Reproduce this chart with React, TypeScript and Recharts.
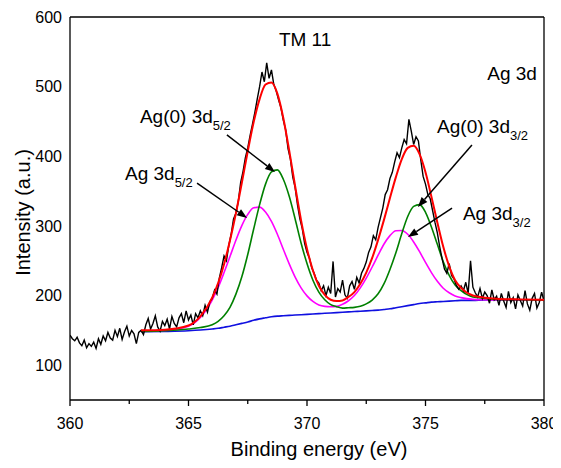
import { LineChart, Line, XAxis, YAxis, ReferenceLine, ReferenceDot } from 'recharts';

// Ag 3d XPS spectrum of sample TM 11, raw counts + peak fit

// raw spectrum, sampled every 0.1 eV from 360 eV
const rawStart = 360;
const rawStep = 0.1;
const rawCounts = [
  143, 138, 135, 140, 132, 128, 136, 125, 131, 127,
  133, 124, 138, 130, 142, 135, 147, 139, 136, 150,
  141, 153, 137, 148, 156, 142, 150, 145, 131, 147,
  150, 144, 158, 167, 152, 160, 171, 155, 149, 163,
  157, 166, 152, 170, 160, 155, 168, 174, 161, 178,
  165, 172, 158, 174, 168, 178, 171, 186, 176, 191,
  196, 208, 202, 225, 240, 257, 250, 272, 288, 310,
  318, 335, 362, 378, 398, 412, 430, 446, 463, 482,
  500, 521, 507, 534, 512, 524, 503, 494, 481, 470,
  452, 438, 411, 396, 370, 355, 330, 310, 296, 275,
  262, 254, 240, 232, 222, 218, 207, 214, 200, 212,
  203, 249, 198, 210, 205, 222, 201, 196, 214, 220,
  209, 226, 218, 232, 239, 248, 262, 270, 286, 280,
  298, 312, 326, 345, 352, 368, 377, 392, 405, 398,
  412, 424, 418, 453, 436, 417, 428, 422, 395, 371,
  360, 345, 339, 322, 305, 290, 270, 253, 238, 232,
  246, 229, 224, 215, 209, 214, 207, 219, 203, 250,
  212, 204, 198, 210, 196, 205, 200, 189, 208, 194,
  199, 186, 203, 192, 183, 206, 190, 197, 181, 201,
  193, 185, 207, 188, 179, 196, 203, 182, 190, 205,
  192,
];

// fit curves (binding energy grid of the fit)
const fitEnergy = [
  363, 364, 365, 365.5, 366, 366.25, 366.5, 366.75, 367, 367.25, 367.5, 367.75,
  368, 368.25, 368.5, 368.75, 369, 369.25, 369.5, 369.75, 370, 370.25, 370.5, 370.75,
  371, 371.25, 371.5, 371.75, 372, 372.25, 372.5, 372.75, 373, 373.25, 373.5, 373.75,
  374, 374.25, 374.5, 374.75, 375, 375.25, 375.5, 375.75, 376, 376.25, 376.5,
  377, 377.5, 378, 379, 380,
];
const background = [
  148, 148.5, 149.5, 150.5, 152, 153, 154.5, 156, 158, 160, 162, 164.5,
  166.5, 168, 169.5, 170.5, 171, 171.5, 172, 172.5, 173, 173.5, 174, 174.5,
  175, 175.5, 176, 176.5, 177, 177.5, 178, 178.5, 179, 180, 181, 182.5,
  184, 185.5, 187, 188.5, 189.5, 190.5, 191, 191.5, 192, 192.5, 193,
  193, 193.5, 193.5, 193.5, 193.5,
];
// Ag(0) 3d5/2 + 3d3/2 component (green)
const ag0Fit = [
  148.5, 149.5, 152, 154, 158, 163, 171, 183, 202, 227, 259, 295.5,
  330.5, 360, 377.5, 380.5, 367, 342.5, 310, 275.5, 246, 222, 205, 194,
  187, 184, 182, 182.5, 183, 184.5, 188, 193.5, 202.5, 217, 237.5, 261.5,
  289, 313.5, 328, 330.5, 319.5, 298.5, 273.5, 248.5, 229, 215, 207,
  198, 196, 194.5, 194, 193.5,
];
// Ag 3d5/2 + 3d3/2 component (magenta)
const agFit = [
  149, 150, 156, 168.5, 193.5, 211.5, 233, 256, 279.5, 300.5, 316.5, 326,
  327, 320, 306.5, 288, 266.5, 245.5, 226.5, 211, 199.5, 191.5, 186.5, 184.5,
  184, 184.5, 187.5, 192.5, 200, 211, 225, 241, 258, 274, 286, 293,
  293.5, 288, 277, 263, 247.5, 233, 220.5, 210.5, 204, 199.5, 197,
  194.5, 194, 193.5, 193.5, 193.5,
];
// cumulative fit (red)
const envelope = [
  150, 151, 157, 170, 197, 218, 245, 279, 318, 362, 407, 449,
  482, 503, 506, 490, 455, 408, 357, 308, 267, 236, 214, 201,
  194, 192, 193, 198, 205, 217, 233, 254, 280, 309, 340, 370,
  396, 412, 415, 403, 377, 342, 305, 270, 242, 222, 211,
  200, 197, 195.5, 194.5, 194,
];

const xTicks = [360, 362.5, 365, 367.5, 370, 372.5, 375, 377.5, 380];
const yTicks = [100, 200, 300, 400, 500, 600];

// annotation anchors, in data units
const notes = [
  { text: 'Ag(0) 3d', sub: '5/2', at: [362.95, 447.8], from: [366.62, 430.6], to: [368.65, 377.4] },
  { text: 'Ag 3d', sub: '5/2', at: [362.32, 366], from: [365.36, 361.6], to: [367.47, 311.4] },
  { text: 'Ag(0) 3d', sub: '3/2', at: [375.49, 433.4], from: [376.96, 416.2], to: [374.68, 327.2] },
  { text: 'Ag 3d', sub: '3/2', at: [376.58, 308.5], from: [376.12, 325.7], to: [374.26, 284] },
];

const rawRows = rawCounts.map((v, i) => ({ e: +(rawStart + i * rawStep).toFixed(1), v }));
const fitRows = fitEnergy.map((e, i) => ({
  e,
  bg: background[i],
  ag0: ag0Fit[i],
  ag: agFit[i],
  env: envelope[i],
}));

const FONT = '"Liberation Sans", Arial, sans-serif';

function XTick(props: any) {
  const { x, y, payload } = props;
  const major = payload.value % 5 === 0;
  return (
    <g>
      <line x1={x} y1={y} x2={x} y2={y + (major ? 6 : 4)} stroke="#000" strokeWidth={1.3} />
      {major && (
        <text x={x} y={y + 29} textAnchor="middle" fontSize={16} fill="#000" fontFamily={FONT}>
          {payload.value}
        </text>
      )}
    </g>
  );
}

function Arrow(props: any) {
  const { x1, y1, x2, y2 } = props;
  const a = Math.atan2(y2 - y1, x2 - x1);
  const len = 10;
  const half = 3.8;
  const bx = x2 - len * Math.cos(a);
  const by = y2 - len * Math.sin(a);
  const pts = `${x2},${y2} ${bx + half * Math.sin(a)},${by - half * Math.cos(a)} ${bx - half * Math.sin(a)},${by + half * Math.cos(a)}`;
  return (
    <g>
      <line x1={x1} y1={y1} x2={bx} y2={by} stroke="#000" strokeWidth={1.5} />
      <polygon points={pts} fill="#000" />
    </g>
  );
}

function noteText(text: string, sub: string) {
  return (props: any) => (
    <text x={props.cx} y={props.cy} fontSize={19} fill="#000" fontFamily={FONT}>
      {text}
      <tspan fontSize={13} dy={7}>{sub}</tspan>
    </text>
  );
}

function plainText(text: string, anchor: 'start' | 'middle' | 'end') {
  return (props: any) => (
    <text x={props.cx} y={props.cy} fontSize={19} fill="#000" textAnchor={anchor} fontFamily={FONT}>
      {text}
    </text>
  );
}

export default function App() {
  return (
    <div style={{ width: 553, height: 452, fontFamily: FONT }}>
      <LineChart width={553} height={452} margin={{ top: 9, right: 17, bottom: 0, left: 0 }}>
        <XAxis
          dataKey="e"
          type="number"
          domain={[360, 380]}
          allowDataOverflow
          ticks={xTicks}
          interval={0}
          tickLine={false}
          tickSize={0}
          tickMargin={0}
          tick={<XTick />}
          height={60}
          axisLine={{ stroke: '#000', strokeWidth: 1.3 }}
          label={(p: any) => {
            const vb = p.viewBox;
            return (
              <text x={vb.x + vb.width / 2 + 12} y={vb.y + 56} textAnchor="middle" fontSize={20} fill="#000" fontFamily={FONT}>
                Binding energy (eV)
              </text>
            );
          }}
        />
        <YAxis
          type="number"
          domain={[50, 600]}
          allowDataOverflow
          ticks={yTicks}
          interval={0}
          width={62}
          tickLine={false}
          tick={{ fontSize: 16, fill: '#000', fontFamily: FONT }}
          axisLine={{ stroke: '#000', strokeWidth: 1.3 }}
          label={(p: any) => {
            const vb = p.viewBox;
            const cx = vb.x + 15;
            const cy = vb.y + vb.height / 2 + 4;
            return (
              <text x={cx} y={cy} transform={`rotate(-90 ${cx} ${cy})`} textAnchor="middle" dominantBaseline="central" fontSize={20} fill="#000" fontFamily={FONT}>
                Intensity (a.u.)
              </text>
            );
          }}
        />
        <ReferenceLine y={600} stroke="#000" strokeWidth={1.3} />
        <ReferenceLine x={380} stroke="#000" strokeWidth={1.3} />

        <Line data={fitRows} dataKey="bg" type="monotone" stroke="#1010e0" strokeWidth={1.6} dot={false} isAnimationActive={false} />
        <Line data={fitRows} dataKey="ag" type="monotone" stroke="#ff00ff" strokeWidth={1.6} dot={false} isAnimationActive={false} />
        <Line data={fitRows} dataKey="ag0" type="monotone" stroke="#008000" strokeWidth={1.6} dot={false} isAnimationActive={false} />
        <Line data={rawRows} dataKey="v" type="linear" stroke="#000" strokeWidth={1.4} dot={false} isAnimationActive={false} />
        <Line data={fitRows} dataKey="env" type="monotone" stroke="#ff0000" strokeWidth={2} dot={false} isAnimationActive={false} />

        {notes.map((n, i) => (
          <ReferenceLine
            key={'a' + i}
            segment={[{ x: n.from[0], y: n.from[1] }, { x: n.to[0], y: n.to[1] }]}
            shape={Arrow}
          />
        ))}
        {notes.map((n, i) => (
          <ReferenceDot key={'t' + i} x={n.at[0]} y={n.at[1]} r={1} shape={noteText(n.text, n.sub)} />
        ))}
        <ReferenceDot x={369.92} y={558.4} r={1} shape={plainText('TM 11', 'middle')} />
        <ReferenceDot x={379.7} y={509.5} r={1} shape={plainText('Ag 3d', 'end')} />
      </LineChart>
    </div>
  );
}
